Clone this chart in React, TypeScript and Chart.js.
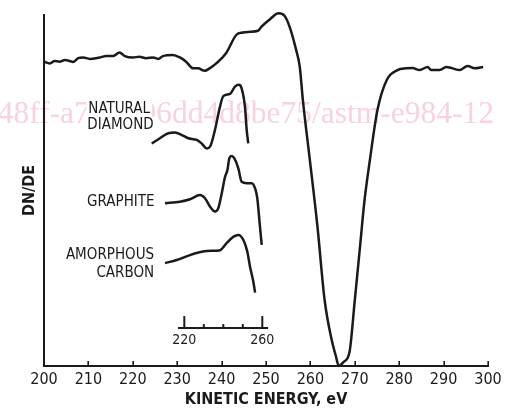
import React, { useEffect, useRef } from "react";
import { Chart, registerables } from "chart.js";

Chart.register(...registerables);

// ---- Main spectrum: kinetic energy (eV) vs dN/dE (arbitrary units) ----
const energyEv = [200, 201.3, 202.4, 203.5, 204.7, 205.8, 206.5, 207.7, 208.8, 210.3, 212.5, 214, 215.6, 217, 218.2, 220, 221.5, 223, 224.6, 225.7, 226.8, 229, 230.6, 232, 233.6, 234.7, 236.2, 237.3, 238.8, 241, 243.3, 244.8, 246.3, 248.2, 249, 250.9, 252.8, 254.2, 255.3, 256.8, 257.6, 258.3, 259.8, 261.6, 263.2, 264.8, 265.7, 266.4, 267.5, 268.8, 270, 271.1, 272.2, 273.4, 275.1, 277.2, 279.6, 281.6, 283, 284.6, 286.4, 287.2, 289.1, 290.6, 292, 293.6, 295.4, 297, 298.9];
const dnDe = [86.7, 86.2, 86.9, 86.7, 87.2, 86.9, 86.6, 87.7, 87.9, 87.5, 87.9, 88.3, 88.3, 89.3, 88.3, 87.9, 88.1, 87.7, 87.9, 87.5, 88.3, 88.6, 87.9, 86.7, 84.8, 84.8, 84.1, 84.8, 86.2, 89.1, 94.3, 95.0, 95.2, 95.5, 96.7, 98.8, 100.5, 99.7, 96.7, 90.0, 85.3, 75.8, 59.5, 39.6, 18.8, 7.4, 3.0, 0, 1.2, 3.9, 18.8, 33.0, 47.3, 58.7, 72.9, 81.5, 84.3, 84.8, 84.9, 84.3, 85.2, 84.3, 84.3, 85.2, 84.8, 84.3, 85.5, 84.8, 85.2];

// ---- Inset reference spectra (inset energy scale 220–260 eV) ----
const diamondEv = [203.3, 207.5, 211.8, 215.2, 218.7, 222, 226.4, 228.9, 231.5, 233.2, 235.7, 238.3, 240, 243.4, 246, 248, 249.4, 251.1, 252, 252.8];
const diamondVals = [63.4, 64.9, 66.3, 66.5, 65.8, 64.9, 64.4, 63.4, 62.0, 62.5, 67.2, 73.9, 76.9, 77.5, 79.6, 80.1, 79.1, 73.9, 67.2, 63.4];

const graphiteEv = [210.1, 217.8, 222.9, 228.1, 230.6, 233.2, 235.7, 237.4, 239.2, 240.9, 242.1, 243.1, 244.3, 245.6, 247.7, 249.4, 252, 254.6, 256.3, 257.4, 258.8, 259.7];
const graphiteVals = [46.4, 46.8, 47.5, 48.7, 47.8, 45.4, 44.0, 44.9, 49.2, 53.9, 55.8, 59.2, 59.8, 59.2, 56.3, 52.5, 52.1, 52.1, 50.6, 47.9, 39.7, 34.5];

const amorphousEv = [210.1, 216.1, 222.9, 229.7, 234, 238.3, 241.7, 245.1, 247.7, 250.3, 252.3, 253.7, 255.4, 256.3];
const amorphousVals = [29.3, 30.2, 31.6, 32.6, 32.8, 33.0, 35.0, 36.8, 37.3, 35.9, 32.6, 28.3, 24.0, 20.9];

// ---- Tick labels ----
const xTicks = [200, 210, 220, 230, 240, 250, 260, 270, 280, 290, 300];
const insetMajorTicks = [220, 260];
const insetMinorTicks = [230, 240, 250];
const insetAxisSpan = [216.8, 263];
const insetAxisLevel = 10.8;

const xTitle = "KINETIC ENERGY, eV";
const yTitle = "DN/DE";
const watermark = "48ff-a72c-f06dd4d8be75/astm-e984-12";

const FONT = '"DejaVu Sans Condensed", "Liberation Sans Narrow", "DejaVu Sans", sans-serif';
const INK = "#1a1a1a";

const toXY = (xs: number[], ys: number[]) => xs.map((x, i) => ({ x, y: ys[i] }));

const decorPlugin = {
  id: "decor",
  beforeDraw(chart: any) {
    const { ctx } = chart;
    ctx.save();
    ctx.font = '31.5px "Liberation Serif", "DejaVu Serif", serif';
    ctx.fillStyle = "#f8d2dc";
    ctx.textAlign = "right";
    ctx.textBaseline = "alphabetic";
    ctx.fillText(watermark, 494, 123);
    ctx.restore();
  },
  afterDraw(chart: any) {
    const { ctx, scales } = chart;
    const x = scales.x;
    const x2 = scales.x2;
    const y = scales.y;
    const bottom = chart.chartArea.bottom;
    ctx.save();
    ctx.strokeStyle = INK;
    ctx.fillStyle = INK;
    ctx.lineCap = "butt";

    // inward ticks on the main energy axis
    ctx.lineWidth = 1.6;
    xTicks.forEach((v) => {
      const px = Math.round(x.getPixelForValue(v)) + 0.2;
      ctx.beginPath();
      ctx.moveTo(px, bottom);
      ctx.lineTo(px, bottom - 5);
      ctx.stroke();
    });

    // inset energy axis
    const ay = y.getPixelForValue(insetAxisLevel);
    ctx.lineWidth = 2;
    ctx.beginPath();
    ctx.moveTo(x2.getPixelForValue(insetAxisSpan[0]), ay);
    ctx.lineTo(x2.getPixelForValue(insetAxisSpan[1]), ay);
    ctx.stroke();
    insetMajorTicks.forEach((v) => {
      const px = x2.getPixelForValue(v);
      ctx.beginPath();
      ctx.moveTo(px, ay);
      ctx.lineTo(px, ay - 12);
      ctx.stroke();
    });
    insetMinorTicks.forEach((v) => {
      const px = x2.getPixelForValue(v);
      ctx.beginPath();
      ctx.moveTo(px, ay);
      ctx.lineTo(px, ay - 4);
      ctx.stroke();
    });
    ctx.font = `14px ${FONT}`;
    ctx.textAlign = "center";
    ctx.textBaseline = "middle";
    insetMajorTicks.forEach((v) => {
      ctx.fillText(String(v), x2.getPixelForValue(v), ay + 12);
    });

    // inset curve labels (right edge in main eV, centre in dN/dE units)
    const labels: [string, number, number][] = [
      ["NATURAL", 223.9, 73.2],
      ["DIAMOND", 224.7, 68.7],
      ["GRAPHITE", 224.9, 46.7],
      ["AMORPHOUS", 224.8, 31.5],
      ["CARBON", 224.8, 26.4],
    ];
    ctx.font = `15px ${FONT}`;
    ctx.textAlign = "right";
    ctx.textBaseline = "middle";
    labels.forEach(([t, ev, v]) => {
      const px = x.getPixelForValue(ev);
      const py = y.getPixelForValue(v);
      const w = ctx.measureText(t).width;
      ctx.fillStyle = "#ffffff";
      ctx.fillRect(px - w - 2, py - 8, w + 4, 16);
      ctx.fillStyle = INK;
      ctx.fillText(t, px, py);
    });
    ctx.restore();
  },
};

export default function App() {
  const canvasRef = useRef<HTMLCanvasElement | null>(null);

  useEffect(() => {
    if (!canvasRef.current) return;
    const lineStyle = {
      borderColor: INK,
      borderWidth: 2.5,
      pointRadius: 0,
      fill: false,
      cubicInterpolationMode: "monotone" as const,
      clip: false as any,
    };
    const chart = new Chart(canvasRef.current, {
      type: "line",
      data: {
        datasets: [
          { ...lineStyle, label: "Sample", data: toXY(energyEv, dnDe), xAxisID: "x", yAxisID: "y" },
          { ...lineStyle, label: "Natural diamond", data: toXY(diamondEv, diamondVals), xAxisID: "x2", yAxisID: "y" },
          { ...lineStyle, label: "Graphite", data: toXY(graphiteEv, graphiteVals), xAxisID: "x2", yAxisID: "y" },
          { ...lineStyle, label: "Amorphous carbon", data: toXY(amorphousEv, amorphousVals), xAxisID: "x2", yAxisID: "y" },
        ],
      },
      options: {
        animation: false,
        responsive: true,
        maintainAspectRatio: false,
        layout: { padding: { left: 0, right: 18, top: 15, bottom: 0 } },
        plugins: {
          legend: { display: false },
          tooltip: { enabled: false },
        },
        scales: {
          x: {
            type: "linear",
            position: "bottom",
            min: 200,
            max: 300,
            grid: { display: false, drawTicks: false },
            border: { display: true, color: INK, width: 2 },
            afterBuildTicks: (s: any) => {
              s.ticks = xTicks.map((v) => ({ value: v }));
            },
            ticks: {
              color: INK,
              padding: 4,
              maxRotation: 0,
              autoSkip: false,
              font: { family: FONT, size: 16, lineHeight: 1.2 },
            },
            title: {
              display: true,
              text: xTitle,
              color: INK,
              padding: { top: 0, bottom: 0 },
              font: { family: FONT, size: 16, weight: "bold", lineHeight: 1.1 },
            },
            afterFit: (s: any) => {
              s.height = 43;
            },
          },
          x2: {
            type: "linear",
            display: false,
            min: 148.05,
            max: 375.74,
          },
          y: {
            type: "linear",
            position: "left",
            min: 0,
            max: 100,
            grid: { display: false, drawTicks: false },
            border: { display: true, color: INK, width: 2 },
            ticks: { display: false },
            title: {
              display: true,
              text: yTitle,
              color: INK,
              padding: { top: 20, bottom: 0 },
              font: { family: FONT, size: 16, weight: "bold", lineHeight: 1.2 },
            },
            afterFit: (s: any) => {
              s.width = 44;
            },
          },
        },
      },
      plugins: [decorPlugin],
    });
    return () => chart.destroy();
  }, []);

  return (
    <div style={{ position: "fixed", left: 0, top: 0, width: 506, height: 409, background: "#fff" }}>
      <canvas ref={canvasRef} />
    </div>
  );
}
